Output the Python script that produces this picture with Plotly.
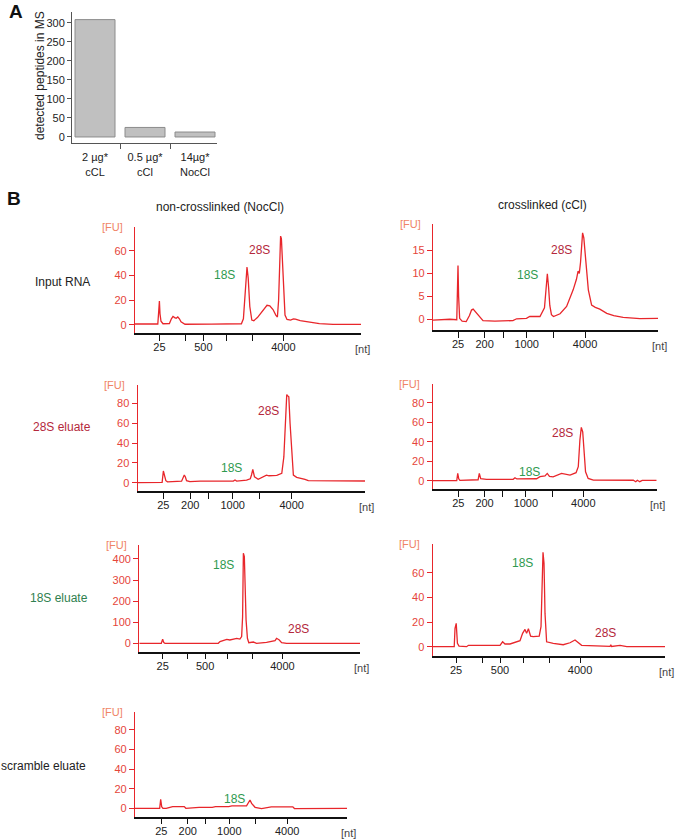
import plotly.graph_objects as go

W, H = 675, 840
def fx(p): return p / W
def fy(p): return 1 - p / H

# ---------------- Panel A data ----------------
a_labels = ["2 µg*<br>cCL", "0.5 µg*<br>cCl", "14µg*<br>NocCl"]
a_peptides = [308, 25, 13]
a_yticks = [0, 50, 100, 150, 200, 250, 300]

# ---------------- Panel B data ----------------
ladder_nt = ["25", "200", "500", "1000", "2000", "4000"]
ladder_time = [22.0, 28.5, 33.0, 38.75, 45.25, 53.0]
lab_a = ["25", "", "500", "", "", "4000"]
lab_b = ["25", "200", "", "1000", "", "4000"]

# Input RNA, non-crosslinked
L1_t = [15.9, 21.6, 21.85, 22.0, 22.15, 22.4, 22.9, 24.5, 25.0, 25.4, 25.8, 26.2, 26.6, 27.0, 27.4, 28.4, 35.0,
        42.5, 43.0, 43.4, 43.7, 43.9, 44.2, 44.6, 45.1, 45.6, 46.5, 47.5, 48.3, 48.9, 49.6, 50.4, 51.1, 51.5,
        51.8, 52.1, 52.3, 52.5, 52.7, 53.0, 53.4, 53.9, 54.8, 55.5, 56.0, 57.2, 59.6, 62.0, 65.4, 72.4]
L1_fu = [0.8, 0.8, 12, 19.5, 9, 3, 1, 1.2, 5, 7, 6, 5.5, 6.5, 5, 2.5, 0.6, 0.7,
         1.0, 5, 22, 40, 47, 38, 15, 4, 3.5, 6, 10, 14, 16, 15.5, 12.5, 8, 6.5,
         20, 62, 72, 70, 55, 25, 8, 4.5, 4, 5, 4.8, 3.5, 2.0, 1.1, 0.5, 0.5]
# Input RNA, crosslinked
R1_t = [15.9, 18.0, 20.0, 21.7, 21.85, 22.0, 22.15, 22.4, 23.0, 24.0, 24.8, 25.3, 25.7, 26.3, 27.0, 28.1, 31.0,
        35.4, 36.3, 38.7, 39.5, 42.0, 43.1, 43.5, 43.8, 44.1, 44.4, 44.8, 45.3, 46.9, 48.5, 50.1, 50.9, 51.3,
        51.6, 51.9, 52.2, 52.4, 52.7, 53.05, 53.4, 53.8, 54.6, 55.5, 56.6, 58.3, 60.0, 62.3, 66.4, 70.8]
R1_fu = [-0.2, -0.1, 0.0, -0.1, 6, 11.7, 5, 0.2, -0.4, -0.5, 0.8, 2.0, 2.2, 1.6, 1.0, -0.3, -0.4,
         -0.3, 0.1, 0.2, 0.6, 0.6, 2.5, 8, 9.9, 7, 3, 1.0, 0.6, 1.2, 2.8, 6.4, 8.7, 10.5,
         10.0, 12.4, 16, 18.8, 17.7, 14.4, 10, 6.4, 3.1, 2.6, 2.2, 1.3, 0.8, 0.4, 0.15, 0.2]
# 28S eluate, non-crosslinked
L2_t = [15.8, 21.7, 22.0, 22.3, 22.6, 23.0, 25.2, 26.4, 27.05, 27.3, 27.6, 28.4, 30.9, 38.9, 39.3, 39.7, 42.1,
        43.0, 43.3, 43.6, 44.0, 44.9, 46.9, 47.5, 49.4, 50.6, 51.1, 51.5, 51.8, 52.0, 52.3, 52.6, 53.0, 53.4,
        54.2, 55.4, 56.2, 57.0, 70.7]
L2_fu = [0, 0.3, 11.8, 7.5, 2, 0.8, 1.2, 1.5, 7.7, 6, 2, 1, 1.5, 1.6, 2.7, 1.6, 2.5,
         4, 8, 13.4, 6, 3.5, 7.7, 7, 7.3, 9.4, 26, 70, 89, 88, 86.7, 60, 29.6, 7.7,
         5.4, 4.5, 3.4, 2, 1.7]
# 28S eluate, crosslinked
R2_t = [15.64, 21.6, 21.85, 22.1, 22.4, 24.9, 26.9, 27.2, 27.55, 29.0, 35.6, 36.05, 36.5, 41.4, 42.25, 43.5,
        44.05, 44.6, 45.5, 47.6, 49.7, 51.2, 51.75, 52.15, 52.5, 52.85, 53.15, 53.55, 54.2, 55.5, 65.4, 66.0,
        66.4, 67.0, 67.6, 71.2]
R2_fu = [0, 0, 7.5, 2, 0.3, 0.8, 1, 7.5, 2, 1.4, 1.4, 3, 1.8, 2, 4.1, 5,
         7.5, 4.5, 4, 7.5, 5.8, 8.2, 14.4, 41.7, 54.7, 50, 28, 9.2, 2.4, 0.7, 0.5, -1,
         0.5, -1, 0.3, 0.3]
# 18S eluate, non-crosslinked
L3_t = [15.95, 21.65, 22.0, 22.3, 22.6, 36.4, 36.85, 37.7, 38.6, 39.4, 40.3, 41.2, 42.0, 42.45, 42.7, 42.9,
        43.15, 43.4, 43.6, 43.95, 44.3, 45.5, 46.3, 48.9, 51.1, 51.5, 52.2, 52.8, 54.1, 73.1]
L3_fu = [0, 0, 19, 3, 0, 0, 8, 12.6, 19, 15.8, 20.5, 23.7, 20, 31.6, 126, 427,
         411, 126, 110, 23.7, 3, 6, 0, 4.7, 12.6, 23.7, 15.8, 3, 0, 0]
# 18S eluate, crosslinked
R3_t = [16.17, 21.55, 21.75, 22.05, 22.35, 22.75, 24.65, 25.1, 33.0, 33.65, 34.25, 35.5, 38.0, 38.65, 39.25,
        39.65, 40.1, 40.65, 41.3, 42.8, 43.25, 43.5, 43.75, 44.0, 44.25, 44.65, 46.3, 48.8, 50.5, 51.75, 52.6,
        53.4, 58.8, 60.5, 60.7, 60.9, 63.0, 64.7, 74.25]
R3_fu = [0, 0, 14.9, 18.9, 2.7, 0.5, 0, 1.1, 1.1, 4, 2.2, 2.2, 4.9, 10.8, 14,
         10.8, 14.6, 8.6, 8.1, 8.6, 16.2, 51, 76.5, 67.6, 27, 4, 2.7, 1.6, 3.2, 5.4, 3.2,
         1.1, 0.5, 0.2, 1.5, 0.2, 1.1, 0, 0]
# scramble eluate, non-crosslinked
L4_t = [15.52, 21.6, 21.85, 22.1, 22.4, 23.2, 24.8, 27.65, 28.05, 30.1, 31.3, 34.55, 35.35, 38.6, 39.4, 43.0,
        43.45, 43.85, 44.25, 45.1, 46.7, 47.5, 49.1, 54.4, 54.8, 67.75]
L4_fu = [0, 0, 9.2, 1.5, 0, 0, 1.7, 1.7, 0, 0.5, 1, 1, 1.7, 1.7, 2.4, 2.4,
         5, 8.5, 5, 1, -0.3, 0.3, 1.4, 1.4, -0.3, 0]

RED = "#e8262b"
TICKRED = "#e5453a"
FU_COL = "#f08466"
C18 = "#2f9a4f"
C28 = "#b4283c"
FONT = "Liberation Sans, Arial, sans-serif"

fig = go.Figure()
annotations = []

def note(text, x, y, size=12, color="#222", angle=0):
    annotations.append(dict(text=text, x=fx(x), y=fy(y), xref="paper", yref="paper", showarrow=False,
                            xanchor="center", yanchor="middle", textangle=angle,
                            font=dict(size=size, color=color, family=FONT)))

# ---------------- Panel A ----------------
fig.add_trace(go.Bar(x=[0, 1, 2], y=a_peptides, width=0.8,
                     marker=dict(color="#c0c0c0", line=dict(color="#8c8c8c", width=1)),
                     xaxis="x", yaxis="y", hoverinfo="skip"))
layout = dict(
    xaxis=dict(domain=[fx(72), fx(217)], range=[-0.46, 2.44], anchor="y", showline=True, linecolor="#555",
               linewidth=1, tickvals=[0, 1, 2], ticktext=a_labels, ticks="", showgrid=False, zeroline=False,
               ticklabelstandoff=4,
               tickfont=dict(size=11, color="#222", family=FONT),
               minor=dict(tickmode="array", tickvals=[0.5, 1.5], ticks="outside", ticklen=5, tickcolor="#555")),
    yaxis=dict(domain=[fy(143), fy(12)], range=[-15.8, 328], anchor="x", showline=True, linecolor="#555",
               linewidth=1, tickvals=a_yticks, ticks="outside", ticklen=4, tickcolor="#555", showgrid=False,
               zeroline=False, tickfont=dict(size=11, color="#222", family=FONT)),
)
note("detected peptides in MS", 40, 76, 12, "#222", -90)
note("<b>A</b>", 16, 12, 19, "#111")
note("<b>B</b>", 14, 198, 19, "#111")

# ---------------- Panel B ----------------
panels = [
    dict(t=L1_t, fu=L1_fu, x0=135, x1=361, ytop=227, ybot=333, xr=[15.9, 72.4], yr=[-6.5, 79.4],
         yt=[0, 20, 40, 60], lab=lab_a, ann=[("18S", C18, 224, 275), ("28S", C28, 259, 250)]),
    dict(t=R1_t, fu=R1_fu, x0=433, x1=658, ytop=224, ybot=330, xr=[15.9, 70.8], yr=[-2.34, 20.74],
         yt=[0, 5, 10, 15], lab=lab_b, ann=[("18S", C18, 527, 275), ("28S", C28, 561, 250)]),
    dict(t=L2_t, fu=L2_fu, x0=137.7, x1=365, ytop=385, ybot=491, xr=[15.8, 70.7], yr=[-8.4, 98.7],
         yt=[0, 20, 40, 60, 80], lab=lab_b, ann=[("28S", C28, 268, 411), ("18S", C18, 232, 468)]),
    dict(t=R2_t, fu=R2_fu, x0=432.7, x1=656.7, ytop=384.3, ybot=489.3, xr=[15.64, 71.2], yr=[-8.8, 98.9],
         yt=[0, 20, 40, 60, 80], lab=lab_b, ann=[("28S", C28, 562, 433), ("18S", C18, 529, 472)]),
    dict(t=L3_t, fu=L3_fu, x0=139.3, x1=360, ytop=545, ybot=651.7, xr=[15.95, 73.1], yr=[-39.8, 466],
         yt=[0, 100, 200, 300, 400], lab=lab_a, ann=[("18S", C18, 223, 565), ("28S", C28, 298, 629)]),
    dict(t=R3_t, fu=R3_fu, x0=432.7, x1=665, ytop=544, ybot=655.7, xr=[16.17, 74.25], yr=[-7.3, 83.3],
         yt=[0, 20, 40, 60], lab=lab_a, ann=[("18S", C18, 522, 563), ("28S", C28, 605, 633)]),
    dict(t=L4_t, fu=L4_fu, x0=135, x1=347, ytop=711.7, ybot=816.7, xr=[15.52, 67.75], yr=[-8.6, 98.6],
         yt=[0, 20, 40, 60, 80], lab=lab_b, ann=[("18S", C18, 234, 799)]),
]

for i, p in enumerate(panels):
    n = i + 2
    xa, ya = f"x{n}", f"y{n}"
    fig.add_trace(go.Scatter(x=p["t"], y=p["fu"], mode="lines", line=dict(color=RED, width=1.3),
                             xaxis=xa, yaxis=ya, hoverinfo="skip"))
    layout[f"xaxis{n}"] = dict(domain=[fx(p["x0"]), fx(p["x1"])], range=p["xr"], anchor=ya, showline=True,
                               linecolor="#111", linewidth=1.5, tickvals=ladder_time, ticktext=p["lab"],
                               ticks="outside", ticklen=6, tickwidth=1.3, tickcolor="#111", showgrid=False,
                               zeroline=False, ticklabelstandoff=-3,
                               tickfont=dict(size=11, color="#222", family=FONT))
    layout[f"yaxis{n}"] = dict(domain=[fy(p["ybot"]), fy(p["ytop"])], range=p["yr"], anchor=xa, showline=True,
                               linecolor=RED, linewidth=1.3, tickvals=p["yt"], ticks="outside", ticklen=5,
                               tickcolor=RED, showgrid=False, zeroline=False,
                               tickfont=dict(size=11, color=TICKRED, family=FONT))
    note("[FU]", p["x0"] - 23, p["ytop"], 11, FU_COL)
    note("[nt]", p["x1"] + 1, p["ybot"] + 16, 11, "#444")
    for txt, col, ax, ay in p["ann"]:
        note(txt, ax, ay, 12, col)

# column titles and row labels
for txt, x, y, col in [("non-crosslinked (NocCl)", 220, 207, "#222"), ("crosslinked (cCl)", 542, 205, "#222"),
                       ("Input RNA", 62, 282, "#222"), ("28S eluate", 62, 427, C28),
                       ("18S eluate", 59, 598, "#2f7f4f"), ("scramble eluate", 44, 766, "#222")]:
    note(txt, x, y, 12, col)

fig.update_layout(**layout)
fig.update_layout(width=W, height=H, margin=dict(l=0, r=0, t=0, b=0), paper_bgcolor="white",
                  plot_bgcolor="rgba(0,0,0,0)", showlegend=False, annotations=annotations,
                  font=dict(family=FONT))
fig.write_html("out.html", config={"displayModeBar": False},
               post_script="document.body.style.margin='0px';document.body.style.overflow='hidden';")
